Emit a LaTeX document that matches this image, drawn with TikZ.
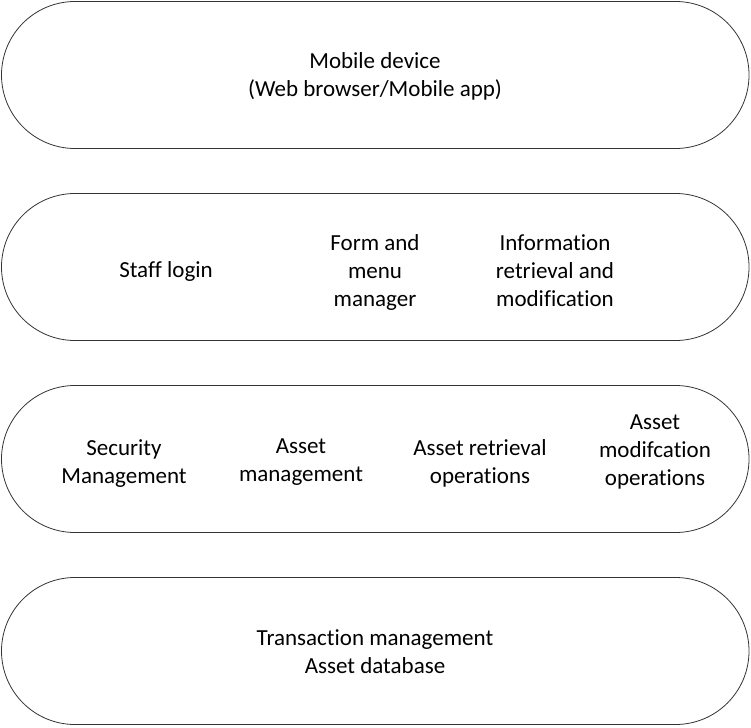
\documentclass[tikz,border=0pt]{standalone}
\usepackage{fontspec}
\setmainfont{Carlito}[Ligatures={NoCommon}]
\begin{document}
\begin{tikzpicture}[x=1pt,y=-1pt,
  layer/.style={draw=black!80, line width=0.8pt, rectangle, rounded corners=73.5pt,
    minimum width=747.5pt, minimum height=147pt, inner sep=0pt},
  lbl/.style={align=center, font=\fontsize{23}{28}\selectfont, inner sep=0pt}]
\useasboundingbox (0,0) rectangle (751,727);
\node[layer] (l1) at (375.25,75) {};
\node[layer] (l2) at (375.25,267) {};
\node[layer] (l3) at (375.25,459) {};
\node[layer] (l4) at (375.25,651) {};
\node[lbl] (t1) at (375,76) {Mobile device\\(Web browser/Mobile app)};
\node[lbl] (t2a) at (166,271) {Staff login};
\node[lbl] (t2b) at (375,272) {Form and\\menu\\manager};
\node[lbl] (t2c) at (555,271) {Information\\retrieval and\\modification};
\node[lbl] (t3a) at (124,464) {Security\\Management};
\node[lbl] (t3b) at (301,462) {Asset\\management};
\node[lbl] (t3c) at (480,463) {Asset retrieval\\operations};
\node[lbl] (t3d) at (655,452) {Asset\\modifcation\\operations};
\node[lbl] (t4) at (375,652) {Transaction management\\Asset database};
\end{tikzpicture}
\end{document}
